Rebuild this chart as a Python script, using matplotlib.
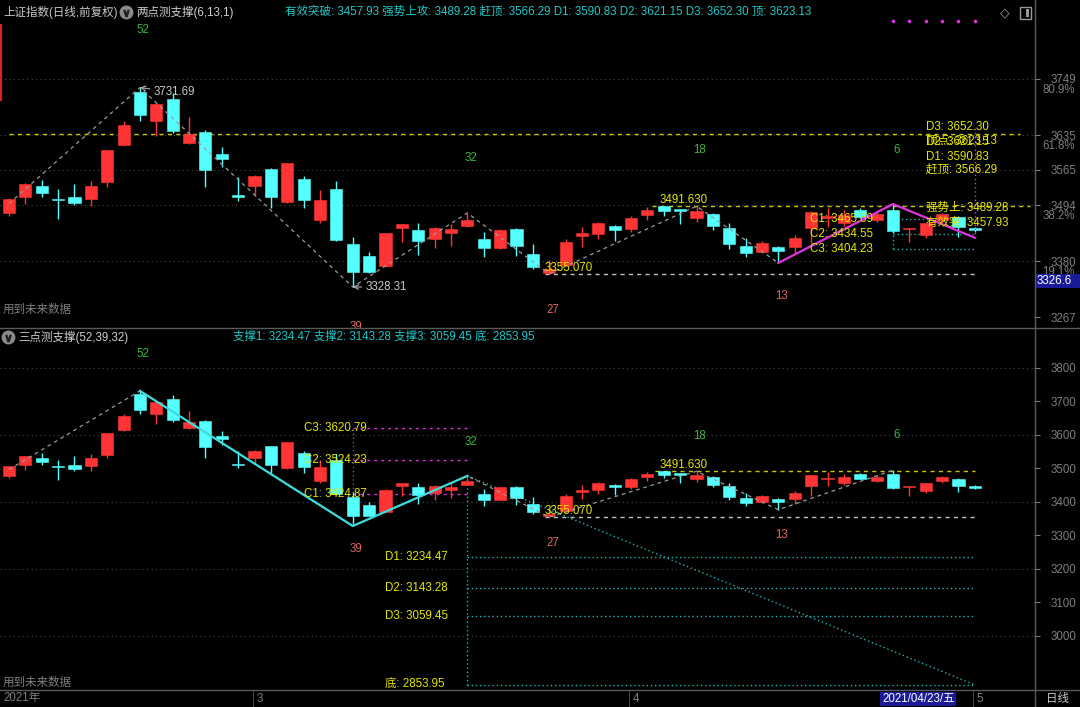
import matplotlib
matplotlib.use('Agg')
import matplotlib.pyplot as plt
from matplotlib.lines import Line2D
from matplotlib.patches import Rectangle

plt.rcParams['font.family'] = ['Liberation Sans', 'Noto Sans CJK SC', 'DejaVu Sans']
plt.rcParams['font.size'] = 8.3
plt.rcParams['axes.unicode_minus'] = False

# ---------------- data (上证指数 daily, 2021-02-01 .. 2021-05-06) ----------------
opens = [3478, 3510, 3532, 3505, 3510, 3506, 3541, 3615, 3723, 3664,
         3708, 3620, 3642, 3597, 3514, 3532, 3567, 3500, 3547, 3464,
         3526, 3415, 3391, 3371, 3448, 3444, 3426, 3437, 3452, 3425,
         3407, 3446, 3395, 3357, 3373, 3431, 3435, 3452, 3445, 3474,
         3492, 3486, 3468, 3476, 3448, 3411, 3399, 3409, 3409, 3448,
         3468, 3458, 3484, 3464, 3484, 3446, 3433, 3464, 3470, 3448]
closes = [3506, 3537, 3518, 3504, 3498, 3532, 3605, 3656, 3676, 3698,
          3644, 3638, 3565, 3587, 3510, 3553, 3510, 3579, 3504, 3504,
          3423, 3359, 3359, 3437, 3456, 3421, 3448, 3446, 3464, 3407,
          3444, 3411, 3369, 3365, 3419, 3437, 3458, 3444, 3468, 3484,
          3482, 3482, 3482, 3452, 3415, 3397, 3417, 3401, 3427, 3480,
          3472, 3474, 3470, 3476, 3442, 3447, 3457, 3476, 3449, 3443]
highs = [3508, 3538, 3545, 3526, 3537, 3543, 3606, 3664, 3731.69, 3700,
         3720, 3672, 3646, 3611, 3551, 3555, 3568, 3580, 3553, 3524,
         3543, 3429, 3399, 3438, 3456, 3458, 3450, 3456, 3478, 3440,
         3445, 3447, 3415, 3383, 3425, 3450, 3460, 3453, 3472, 3490,
         3493, 3487, 3491.63, 3477, 3458, 3427, 3421, 3411, 3433, 3482,
         3489, 3484, 3488, 3480, 3496, 3447, 3458, 3478, 3471, 3450]
lows = [3472, 3496, 3510, 3466, 3494, 3492, 3531, 3613, 3664, 3634,
        3640, 3617, 3530, 3571, 3502, 3512, 3488, 3499, 3488, 3458,
        3421, 3328.31, 3357, 3369, 3419, 3393, 3407, 3411, 3450, 3389,
        3405, 3391, 3365, 3355.07, 3371, 3409, 3425, 3421, 3439, 3464,
        3472, 3456, 3460, 3444, 3405, 3389, 3397, 3377, 3395, 3417,
        3449, 3452, 3468, 3460, 3438, 3419, 3427, 3458, 3429, 3440]

# zigzag turning points (bar index, price)
zz_idx = [0, 8, 21, 28, 33, 42, 47]
zz_val = [3497, 3731.69, 3328.31, 3478, 3355.07, 3491.63, 3377]
mag_idx = [47, 54, 59]
mag_val = [3377, 3496, 3428]
tail_idx = [47, 54]
tail_val = [3377, 3495]
v_idx = [8, 21, 28]
v_val = [3731.69, 3328.31, 3478]

# two-point support levels (top panel)
top_c_names = ['C1', 'C2', 'C3']
top_c_vals = [3465.69, 3434.55, 3404.23]
top_d_labels = ['D3: 3652.30', '顶点: 3623.13', 'D2: 3621.15', 'D1: 3590.83',
                '赶顶: 3566.29', '强势上: 3489.28', '有效突: 3457.93']
top_d_vals = [3652.30, 3623.13, 3621.15, 3590.83, 3566.29, 3489.28, 3457.93]
fib_line = 3637
peak_line = 3491.63
trough_line = 3355.07

# three-point support levels (bottom panel)
bot_c_names = ['C1', 'C2', 'C3']
bot_c_vals = [3424.87, 3524.23, 3620.79]
bot_d_names = ['D1', 'D2', 'D3', '底']
bot_d_vals = [3234.47, 3143.28, 3059.45, 2853.95]

# cycle counts
cyc_up_idx = [8, 28, 42, 54]
cyc_up_txt = ['52', '32', '18', '6']
cyc_dn_idx = [21, 33, 47]
cyc_dn_txt = ['39', '27', '13']

top_ticks = [3749, 3635, 3565, 3494, 3380, 3267]
top_pct = {3749: '80.9%', 3635: '61.8%', 3494: '38.2%', 3380: '19.1%'}
top_grid = [3749, 3635, 3565, 3494, 3380]
bot_ticks = [3800, 3700, 3600, 3500, 3400, 3300, 3200, 3100, 3000]
bot_grid = [3800, 3600, 3400, 3200, 3000]
month_starts = [15, 38, 59]
month_labels = ['3', '4', '5']
dot_idx = [54, 55, 56, 57, 58, 59]

# ---------------- styles / layout ----------------
RED = '#FF3434'
CYAN = '#54FFFF'
YEL = '#E6E600'
DYEL = '#C8C800'
MAG = '#E030E0'
GRN = '#3CB43C'
SAL = '#E06464'
GRAYT = '#7E7E7E'
TCYAN = '#1EC8C8'
DOTC = '#22B4B4'
GRID = '#4A4A4A'

W, H = 1080, 707
fig = plt.figure(figsize=(W / 100, H / 100), dpi=100)
fig.patch.set_facecolor('black')

def fxp(px):
    return px / W

def fyp(py):
    return 1 - py / H

PLOT_R = 1034
STEP, OFF = 16.37, 9.0
XLIM = ((0 - OFF) / STEP, (PLOT_R - OFF) / STEP)

def ix(px):
    return (px - OFF) / STEP

TOP_Y0, TOP_Y1 = 0, 328
BOT_Y0, BOT_Y1 = 328, 690
TOP_LIM = (3245.4, 3908.6)
BOT_LIM = (2838.8, 3919.4)

def tp(py):
    return TOP_LIM[1] - (py - TOP_Y0) * (TOP_LIM[1] - TOP_LIM[0]) / (TOP_Y1 - TOP_Y0)

def bp(py):
    return BOT_LIM[1] - (py - BOT_Y0) * (BOT_LIM[1] - BOT_LIM[0]) / (BOT_Y1 - BOT_Y0)

ax1 = fig.add_axes([0, fyp(TOP_Y1), fxp(PLOT_R), (TOP_Y1 - TOP_Y0) / H])
ax2 = fig.add_axes([0, fyp(BOT_Y1), fxp(PLOT_R), (BOT_Y1 - BOT_Y0) / H])
ax3 = fig.add_axes([0, 0, fxp(PLOT_R), (H - BOT_Y1) / H])

for ax, lim in ((ax1, TOP_LIM), (ax2, BOT_LIM)):
    ax.set_facecolor('black')
    ax.set_xlim(*XLIM)
    ax.set_ylim(*lim)
    for s in ax.spines.values():
        s.set_visible(False)
    ax.set_xticks([])
    ax.yaxis.tick_right()

ax3.set_facecolor('black')
ax3.set_xlim(*XLIM)
ax3.set_ylim(0, 1)
ax3.axis('off')

def setup_yaxis(ax, ticks):
    ax.set_yticks(ticks)
    ax.set_yticklabels([str(t) for t in ticks])
    ax.tick_params(axis='y', colors=GRAYT, length=4, width=0.8, pad=26.5, labelsize=8.3)
    for lab in ax.get_yticklabels():
        lab.set_horizontalalignment('right')

setup_yaxis(ax1, top_ticks)
setup_yaxis(ax2, bot_ticks)
for v, pct in top_pct.items():
    ax1.annotate(pct, xy=(1, v), xycoords=ax1.get_yaxis_transform(), xytext=(41, -11),
                 textcoords='offset pixels', ha='right', va='center', color=GRAYT, fontsize=8.3)

# grids
ax1.hlines(top_grid, XLIM[0], XLIM[1], colors=GRID, linestyles=(0, (1, 3)), lw=0.8, zorder=1)
ax2.hlines(bot_grid, XLIM[0], XLIM[1], colors=GRID, linestyles=(0, (1, 3)), lw=0.8, zorder=1)

def candles(ax, minh):
    xs = list(range(len(opens)))
    cols = [RED if c >= o else CYAN for o, c in zip(opens, closes)]
    ax.vlines(xs, lows, highs, colors=cols, lw=1.0, zorder=3)
    bots = [min(o, c) for o, c in zip(opens, closes)]
    hts = [max(abs(c - o), minh) for o, c in zip(opens, closes)]
    ax.bar(xs, hts, bottom=bots, width=0.74, color=cols, edgecolor=cols, lw=0.4, zorder=4)

candles(ax1, 1.5)
candles(ax2, 2.2)

DASH = (0, (3, 3))
DOT = (0, (1, 2))

# ---------------- top panel overlays ----------------
ax1.hlines(fib_line, 0, ix(1020), colors=DYEL, linestyles=DASH, lw=1.0, zorder=2)
ax1.hlines(peak_line, ix(652), ix(1030), colors=DYEL, linestyles=DASH, lw=1.0, zorder=2)
ax1.hlines(trough_line, ix(545), 59, colors='#C0C0C0', linestyles=DASH, lw=1.0, zorder=2)
ax1.plot(zz_idx, zz_val, color='#9A9A9A', ls=DASH, lw=0.9, zorder=5)
ax1.plot(mag_idx, mag_val, color=MAG, lw=1.6, zorder=6)
ax1.vlines(mag_idx[-1], mag_val[-1], top_d_vals[0], colors=MAG, linestyles=DOT, lw=1.0, zorder=5)
ax1.hlines(top_c_vals, mag_idx[1], mag_idx[-1], colors=DOTC, linestyles=DOT, lw=1.0, zorder=2)
ax1.vlines(mag_idx[1], top_c_vals[-1], top_c_vals[0], colors=DOTC, linestyles=DOT, lw=1.0, zorder=2)
ax1.plot(dot_idx, [tp(21.5)] * len(dot_idx), 'o', ms=1.6, color=MAG, zorder=6)

for name, v in zip(top_c_names, top_c_vals):
    ax1.text(ix(810), v, f'{name}: {v:.2f}', color=YEL, ha='left', va='center', zorder=8)
for lab, v in zip(top_d_labels, top_d_vals):
    ax1.text(ix(926), v, lab, color=YEL, ha='left', va='center', zorder=8)

ax1.text(ix(660), peak_line, f'{peak_line:.3f}', color=YEL, ha='left', va='bottom', zorder=8)
ax1.text(ix(545), trough_line, f'{trough_line:.3f}', color=YEL, ha='left', va='bottom', zorder=8)

ax1.annotate(f'{zz_val[1]:.2f}', xy=(zz_idx[1], zz_val[1]), xytext=(14, -5), textcoords='offset pixels',
             ha='left', va='center', color='#C8C8C8', zorder=8,
             arrowprops=dict(arrowstyle='->', color='#B0B0B0', lw=0.8, shrinkA=1, shrinkB=0))
ax1.annotate(f'{zz_val[2]:.2f}', xy=(zz_idx[2], zz_val[2]), xytext=(13, 0), textcoords='offset pixels',
             ha='left', va='center', color='#C8C8C8', zorder=8,
             arrowprops=dict(arrowstyle='->', color='#B0B0B0', lw=0.8, shrinkA=1, shrinkB=0))

top_up_py = [30, 158, 150, 150]
top_dn_py = [327, 310, 296]
for i, t, py in zip(cyc_up_idx, cyc_up_txt, top_up_py):
    ax1.text(i + 0.2, tp(py), t, color=GRN, ha='center', va='center', zorder=8)
for i, t, py in zip(cyc_dn_idx, cyc_dn_txt, top_dn_py):
    ax1.text(i + 0.2, tp(py), t, color=SAL, ha='center', va='center', zorder=8, clip_on=True)
ax1.text(ix(3), tp(310), '用到未来数据', color=GRAYT, ha='left', va='center')

# ---------------- bottom panel overlays ----------------
ax2.hlines(peak_line, ix(655), 59, colors=DYEL, linestyles=DASH, lw=1.0, zorder=2)
ax2.hlines(trough_line, ix(545), 59, colors='#C0C0C0', linestyles=DASH, lw=1.0, zorder=2)
ax2.plot(zz_idx + tail_idx[1:], zz_val + tail_val[1:], color='#9A9A9A', ls=DASH, lw=0.9, zorder=5)
ax2.plot(v_idx, v_val, color='#3CDCDC', lw=1.6, zorder=6)

ax2.hlines(bot_c_vals, v_idx[1], v_idx[2], colors=MAG, linestyles=(0, (2, 3)), lw=1.0, zorder=2)
ax2.vlines(v_idx[1], v_val[1], max(bot_c_vals), colors='#9040B0', linestyles=DOT, lw=1.0, zorder=2)
for name, v in zip(bot_c_names, bot_c_vals):
    ax2.text(ix(304), v, f'{name}: {v:.2f}', color=YEL, ha='left', va='center', zorder=8)

ax2.hlines(bot_d_vals, v_idx[2], len(opens) - 1, colors=DOTC, linestyles=DOT, lw=1.0, zorder=2)
ax2.vlines(v_idx[2], bot_d_vals[-1], v_val[2], colors=DOTC, linestyles=DOT, lw=1.0, zorder=2)
ax2.plot([v_idx[2], len(opens) - 1], [v_val[2], bot_d_vals[-1]], color=DOTC, ls=DOT, lw=1.0, zorder=2)
for name, v in zip(bot_d_names, bot_d_vals):
    ax2.text(ix(385), v, f'{name}: {v:.2f}', color=YEL, ha='left', va='center', zorder=8)

ax2.text(ix(660), peak_line, f'{peak_line:.3f}', color=YEL, ha='left', va='bottom', zorder=8)
ax2.text(ix(545), trough_line, f'{trough_line:.3f}', color=YEL, ha='left', va='bottom', zorder=8)

bot_up_py = [354, 442, 436, 435]
bot_dn_py = [549, 543, 535]
for i, t, py in zip(cyc_up_idx, cyc_up_txt, bot_up_py):
    ax2.text(i + 0.2, bp(py), t, color=GRN, ha='center', va='center', zorder=8)
for i, t, py in zip(cyc_dn_idx, cyc_dn_txt, bot_dn_py):
    ax2.text(i + 0.2, bp(py), t, color=SAL, ha='center', va='center', zorder=8)
ax2.text(ix(3), bp(683), '用到未来数据', color=GRAYT, ha='left', va='center')

# ---------------- x strip ----------------
ax3.text(ix(3), 0.5, '2021年', color=GRAYT, ha='left', va='center')
for m, lab in zip(month_starts, month_labels):
    ax3.vlines(m - 0.1, 0, 1, colors='#404040', lw=0.8)
    ax3.text(m + 0.12, 0.5, lab, color=GRAYT, ha='left', va='center')

# ---------------- figure-level frame & headers ----------------
LINEC = '#5A5A5A'
fig.add_artist(Line2D([0, 1], [fyp(328), fyp(328)], color=LINEC, lw=1.0))
fig.add_artist(Line2D([0, 1], [fyp(690), fyp(690)], color=LINEC, lw=1.0))
fig.add_artist(Line2D([fxp(1034.5), fxp(1034.5)], [0, 1], color=LINEC, lw=1.0))
fig.add_artist(Line2D([fxp(1), fxp(1)], [fyp(25), fyp(100)], color='#E02020', lw=1.5))

fig.text(fxp(3), fyp(12), '上证指数(日线,前复权)', color='#C8C8C8', ha='left', va='center')
fig.add_artist(Line2D([fxp(126)], [fyp(12)], marker='o', ms=9, color='#8A8A8A', ls='none'))
fig.add_artist(Line2D([fxp(126)], [fyp(12.5)], marker=r'$\vee$', ms=4.5, color='#202020', ls='none'))
fig.text(fxp(136), fyp(12), '两点测支撑(6,13,1)', color='#D0D0D0', ha='left', va='center')
fig.text(fxp(285), fyp(12),
         '有效突破: 3457.93 强势上攻: 3489.28 赶顶: 3566.29 D1: 3590.83 D2: 3621.15 D3: 3652.30 顶: 3623.13',
         color=TCYAN, ha='left', va='center')
fig.text(fxp(1005), fyp(13), '◇', color='#9A9A9A', ha='center', va='center', fontsize=9,
         family=['DejaVu Sans'])
fig.add_artist(Rectangle((fxp(1020), fyp(19)), 11 / W, 12 / H, transform=fig.transFigure,
                         facecolor='none', edgecolor='#9A9A9A', lw=1.0))
fig.add_artist(Rectangle((fxp(1026), fyp(17)), 3 / W, 8 / H, transform=fig.transFigure,
                         facecolor='#9A9A9A', edgecolor='none'))

fig.add_artist(Line2D([fxp(8)], [fyp(337)], marker='o', ms=9, color='#8A8A8A', ls='none'))
fig.add_artist(Line2D([fxp(8)], [fyp(337.5)], marker=r'$\vee$', ms=4.5, color='#202020', ls='none'))
fig.text(fxp(18), fyp(337), '三点测支撑(52,39,32)', color='#D0D0D0', ha='left', va='center')
fig.text(fxp(233), fyp(337), '支撑1: 3234.47 支撑2: 3143.28 支撑3: 3059.45 底: 2853.95',
         color=TCYAN, ha='left', va='center')

# cursor value box on right axis
fig.add_artist(Rectangle((fxp(1035), fyp(288)), 45 / W, 14 / H, transform=fig.transFigure,
                         facecolor='#1A1A96', edgecolor='none'))
fig.text(fxp(1037), fyp(281), '3326.6', color='white', ha='left', va='center')

# date box in x strip
fig.add_artist(Rectangle((fxp(880), fyp(706)), 76 / W, 14 / H, transform=fig.transFigure,
                         facecolor='#1A1A96', edgecolor='none'))
fig.text(fxp(882), fyp(699), '2021/04/23/五', color='white', ha='left', va='center')
fig.text(fxp(1057), fyp(699), '日线', color='#C8C8C8', ha='center', va='center')

fig.savefig('out.png', dpi=100, facecolor='black')
